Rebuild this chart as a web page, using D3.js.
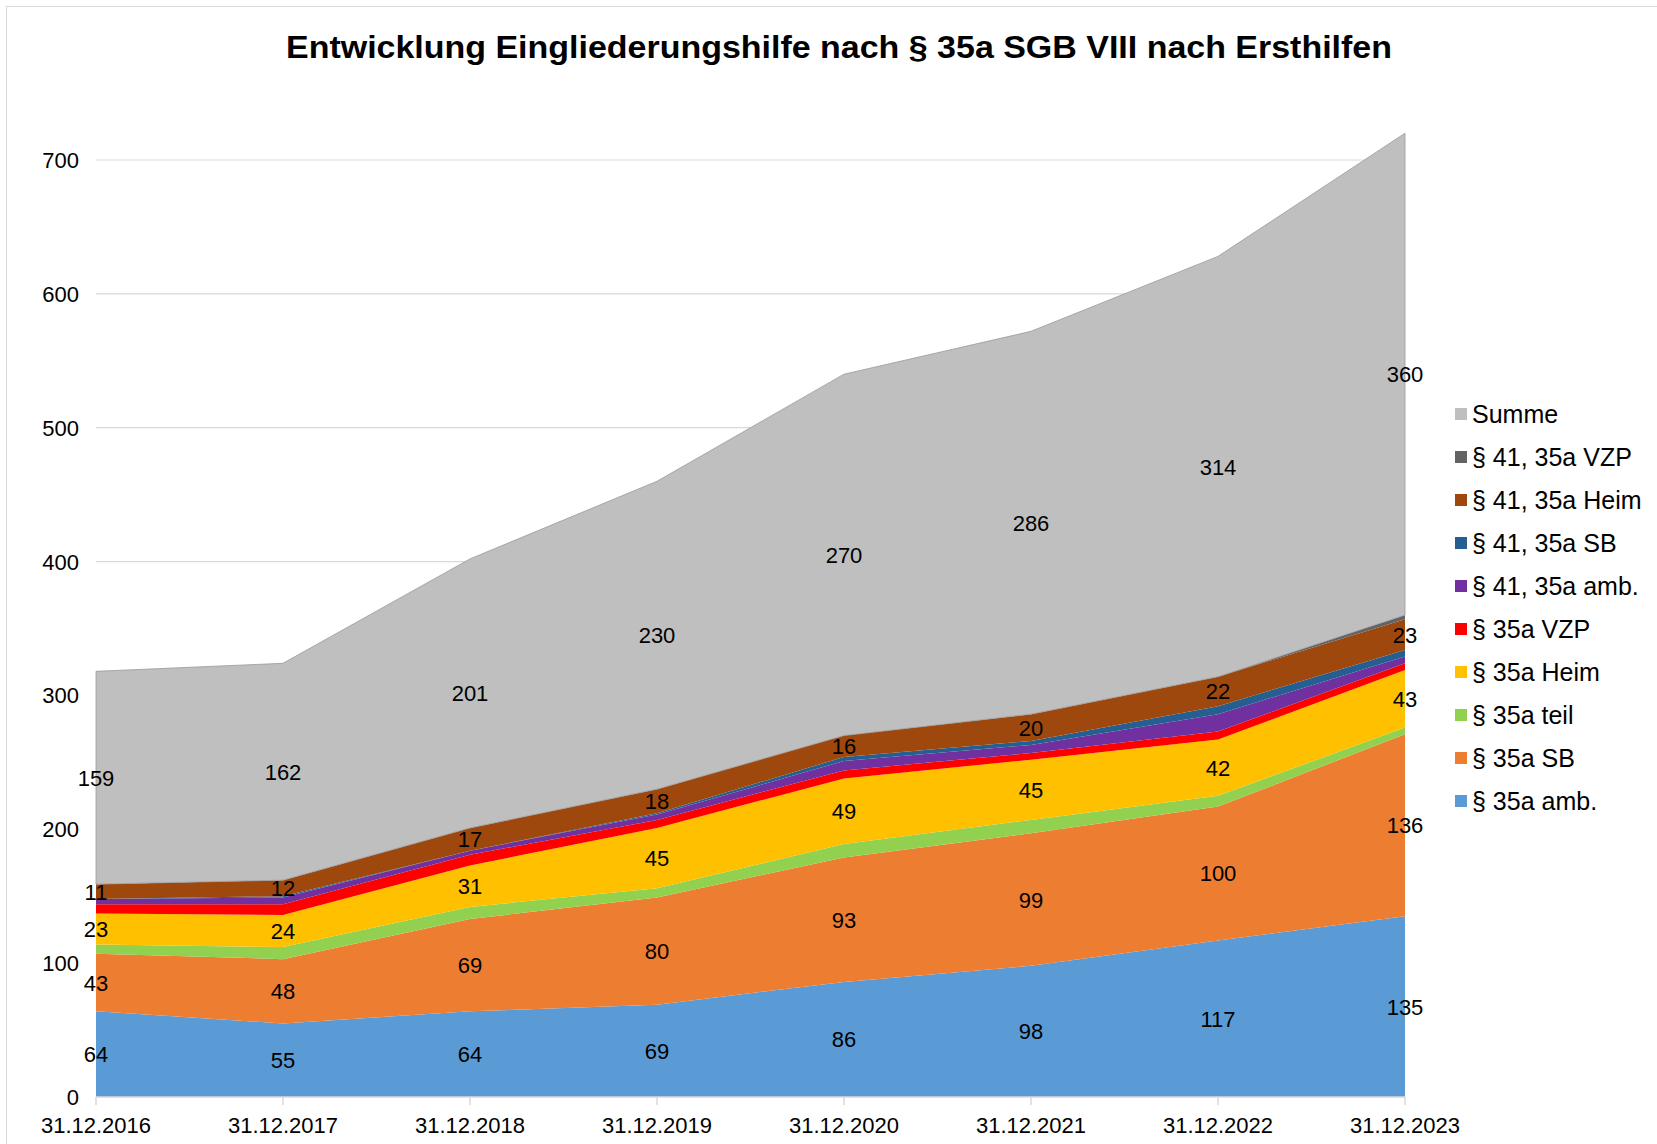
<!DOCTYPE html>
<html>
<head>
<meta charset="utf-8">
<script src="https://cdn.jsdelivr.net/npm/d3@7"></script>
<style>
  body { margin: 0; background: #fff; }
  text { font-family: "Liberation Sans", Arial, sans-serif; fill: #000; }
</style>
</head>
<body>
<svg width="1657" height="1144"></svg>
<script>
// categories and series
var years = ['31.12.2016', '31.12.2017', '31.12.2018', '31.12.2019', '31.12.2020', '31.12.2021', '31.12.2022', '31.12.2023'];

var amb35 = [64, 55, 64, 69, 86, 98, 117, 135];
var sb35 = [43, 48, 69, 80, 93, 99, 100, 136];
var teil35 = [7, 9, 9, 7, 10, 10, 8, 5];
var heim35 = [23, 24, 31, 45, 49, 45, 42, 43];
var vzp35 = [7, 8, 8, 6, 6, 5, 6, 5];
var amb41 = [4, 5, 3, 4, 7, 6, 13, 5];
var sb41 = [0, 1, 0, 1, 3, 3, 6, 5];
var heim41 = [11, 12, 17, 18, 16, 20, 22, 23];
var vzp41 = [0, 0, 0, 0, 0, 0, 0, 3];
var summe = [159, 162, 201, 230, 270, 286, 314, 360];

var yTicks = [0, 100, 200, 300, 400, 500, 600, 700];

var series = [
  { key: 'amb35', name: '§ 35a amb.', values: amb35, color: '#5B9BD5', label: true },
  { key: 'sb35', name: '§ 35a SB', values: sb35, color: '#ED7D31', label: true },
  { key: 'teil35', name: '§ 35a teil', values: teil35, color: '#92D050', label: false },
  { key: 'heim35', name: '§ 35a Heim', values: heim35, color: '#FFC000', label: true },
  { key: 'vzp35', name: '§ 35a VZP', values: vzp35, color: '#FF0000', label: false },
  { key: 'amb41', name: '§ 41, 35a amb.', values: amb41, color: '#7030A0', label: false },
  { key: 'sb41', name: '§ 41, 35a SB', values: sb41, color: '#255E91', label: false },
  { key: 'heim41', name: '§ 41, 35a Heim', values: heim41, color: '#9E480E', label: true },
  { key: 'vzp41', name: '§ 41, 35a VZP', values: vzp41, color: '#636363', label: false },
  { key: 'summe', name: 'Summe', values: summe, color: '#BFBFBF', label: true }
];

var rows = years.map((y, i) => {
  var r = { year: y };
  series.forEach(s => r[s.key] = s.values[i]);
  return r;
});

var svg = d3.select('svg');

// chart frame
svg.append('rect')
  .attr('x', 6.5).attr('y', 6.5)
  .attr('width', 1700).attr('height', 1200)
  .attr('fill', 'none')
  .attr('stroke', '#d9d9d9');

var x = d3.scalePoint()
  .domain(years)
  .range([96, 1405]);

var y = d3.scaleLinear()
  .domain([0, 700])
  .range([1097, 160]);

// gridlines
svg.append('g')
  .selectAll('line')
  .data(yTicks.slice(1))
  .enter()
  .append('line')
  .attr('x1', 96).attr('x2', 1405)
  .attr('y1', d => y(d)).attr('y2', d => y(d))
  .attr('stroke', '#d9d9d9')
  .attr('stroke-width', 1.2);

var stack = d3.stack().keys(series.map(s => s.key));
var layers = stack(rows);

var area = d3.area()
  .x((d, i) => x(years[i]))
  .y0(d => y(d[0]))
  .y1(d => y(d[1]));

svg.append('g')
  .selectAll('path')
  .data(layers)
  .enter()
  .append('path')
  .attr('d', area)
  .attr('fill', (d, i) => series[i].color)
  .attr('stroke', (d, i) => series[i].key === 'summe' ? '#999' : 'none')
  .attr('stroke-width', 0.8);

// x axis
var xAxis = svg.append('g').attr('transform', 'translate(0,1097)');
xAxis.append('line')
  .attr('x1', 96).attr('x2', 1405)
  .attr('stroke', '#d9d9d9').attr('stroke-width', 1.5);
xAxis.selectAll('line.tick')
  .data(years)
  .enter()
  .append('line')
  .attr('class', 'tick')
  .attr('x1', d => x(d)).attr('x2', d => x(d))
  .attr('y1', 0).attr('y2', 8)
  .attr('stroke', '#d9d9d9').attr('stroke-width', 1.5);
xAxis.selectAll('text')
  .data(years)
  .enter()
  .append('text')
  .attr('x', d => x(d))
  .attr('y', 36)
  .attr('text-anchor', 'middle')
  .style('font-size', '22px')
  .text(d => d);

// y axis labels
svg.append('g')
  .selectAll('text')
  .data(yTicks)
  .enter()
  .append('text')
  .attr('x', 79)
  .attr('y', d => y(d) + 8)
  .attr('text-anchor', 'end')
  .style('font-size', '22px')
  .text(d => d);

// data labels in the middle of each band
layers.forEach((layer, si) => {
  if (!series[si].label) return;
  svg.append('g')
    .selectAll('text')
    .data(layer)
    .enter()
    .append('text')
    .attr('x', (d, i) => x(years[i]))
    .attr('y', d => y((d[0] + d[1]) / 2) + 8)
    .attr('text-anchor', 'middle')
    .style('font-size', '22px')
    .text(d => d.data[series[si].key]);
});

// legend, top to bottom in reverse stack order
var legend = svg.append('g')
  .selectAll('g')
  .data(series.slice().reverse())
  .enter()
  .append('g')
  .attr('transform', (d, i) => 'translate(1455,' + (414 + i * 43) + ')');
legend.append('rect')
  .attr('x', 0).attr('y', -6)
  .attr('width', 12).attr('height', 12)
  .attr('fill', d => d.color);
legend.append('text')
  .attr('x', 17).attr('y', 9)
  .style('font-size', '25px')
  .text(d => d.name);

// title
svg.append('text')
  .attr('x', 839)
  .attr('y', 58)
  .attr('text-anchor', 'middle')
  .style('font-size', '32px')
  .style('font-weight', 'bold')
  .attr('textLength', 1106)
  .attr('lengthAdjust', 'spacingAndGlyphs')
  .text('Entwicklung Eingliederungshilfe nach § 35a SGB VIII nach Ersthilfen');
</script>
</body>
</html>
